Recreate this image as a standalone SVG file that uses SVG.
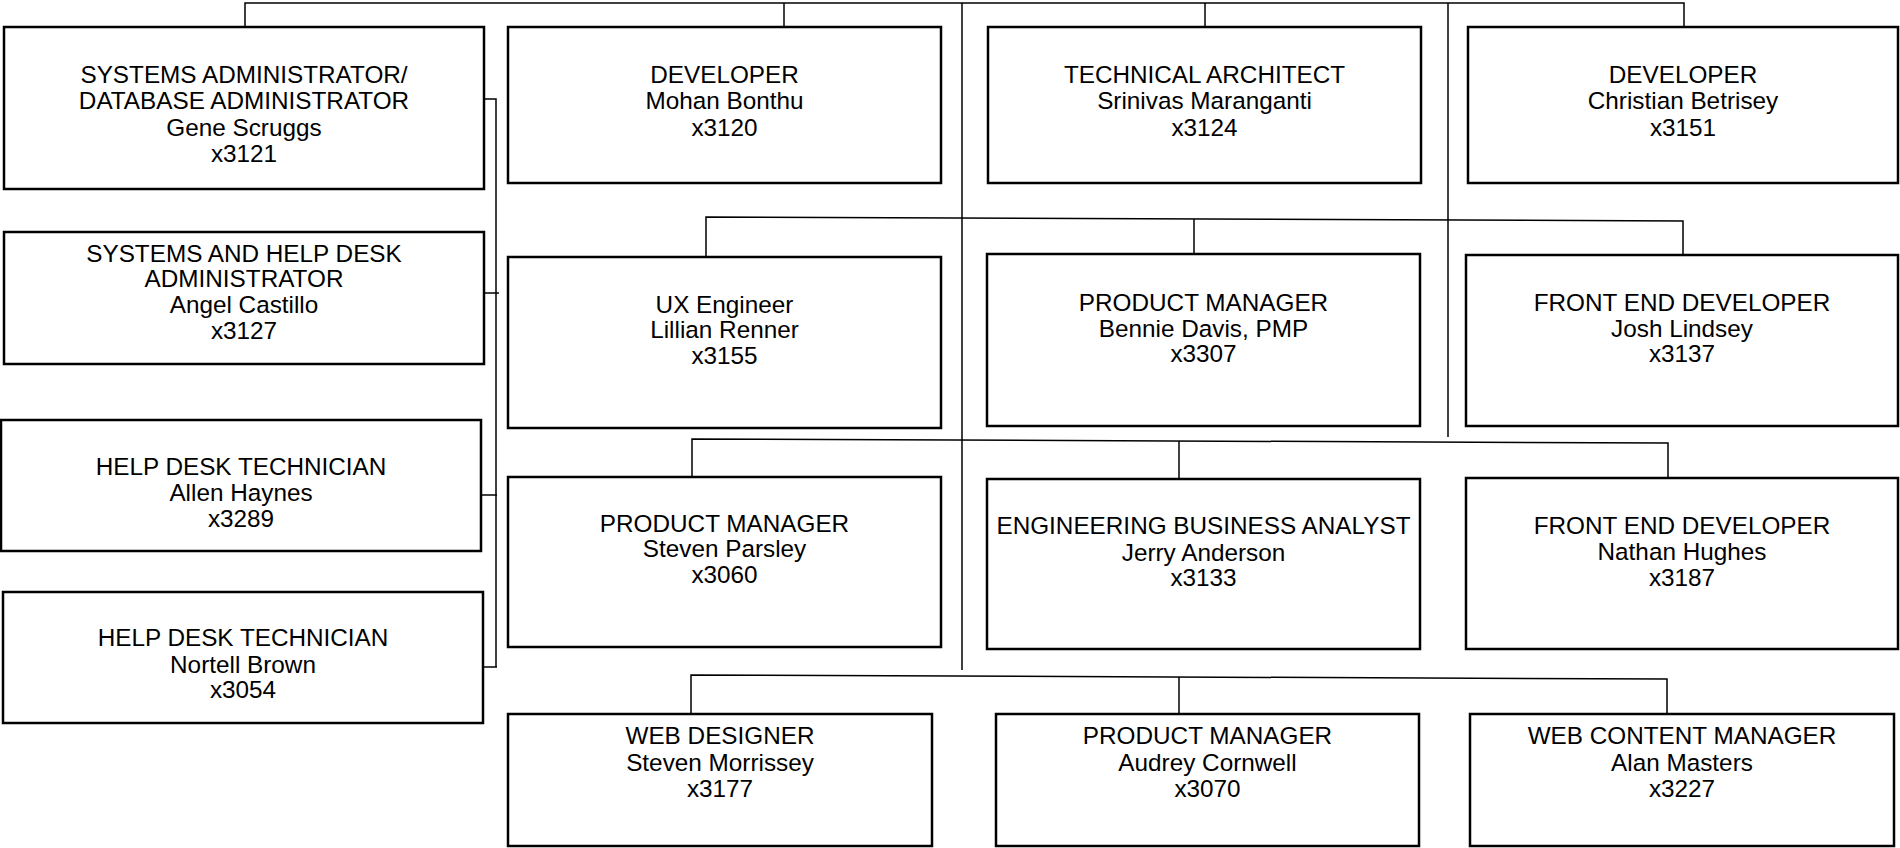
<svg xmlns="http://www.w3.org/2000/svg" width="1900" height="848" viewBox="0 0 1900 848">
<style>
.box{fill:#fff;stroke:#000;stroke-width:2.5}
.t{font-family:"Liberation Sans",Arial,sans-serif;font-size:24.3px;fill:#000;text-anchor:middle}
.c{fill:none;stroke:#000;stroke-width:1.5}
</style>
<rect width="1900" height="848" fill="#fff"/>
<g id="connectors">
<path class="c" d="M245,27 V3 H1684 V27"/>
<path class="c" d="M784,3 V27"/>
<path class="c" d="M1205,3 V27"/>
<path class="c" d="M962,3 V670"/>
<path class="c" d="M1448,3 V437"/>
<path class="c" d="M706,257 V217 L1683,221 V255"/>
<path class="c" d="M1194,219 V254"/>
<path class="c" d="M692,477 V439 L1668,443 V478"/>
<path class="c" d="M1179,441 V479"/>
<path class="c" d="M691,714 V675 L1667,679 V714"/>
<path class="c" d="M1179,677 V714"/>
<path class="c" d="M484,99 H496 V667"/>
<path class="c" d="M484,293 H499"/>
<path class="c" d="M481,495 H497"/>
<path class="c" d="M483,667 H497"/>
</g>
<g id="n-gene">
<rect class="box" x="4" y="27" width="480" height="162"/>
<text class="t" x="244" y="83">SYSTEMS ADMINISTRATOR/</text>
<text class="t" x="244" y="109">DATABASE ADMINISTRATOR</text>
<text class="t" x="244" y="136">Gene Scruggs</text>
<text class="t" x="244" y="162">x3121</text>
</g>
<g id="n-angel">
<rect class="box" x="4" y="232" width="480" height="132"/>
<text class="t" x="244" y="262">SYSTEMS AND HELP DESK</text>
<text class="t" x="244" y="287">ADMINISTRATOR</text>
<text class="t" x="244" y="313">Angel Castillo</text>
<text class="t" x="244" y="339">x3127</text>
</g>
<g id="n-allen">
<rect class="box" x="1" y="420" width="480" height="131"/>
<text class="t" x="241" y="475">HELP DESK TECHNICIAN</text>
<text class="t" x="241" y="501">Allen Haynes</text>
<text class="t" x="241" y="527">x3289</text>
</g>
<g id="n-nortell">
<rect class="box" x="3" y="592" width="480" height="131"/>
<text class="t" x="243" y="646">HELP DESK TECHNICIAN</text>
<text class="t" x="243" y="673">Nortell Brown</text>
<text class="t" x="243" y="698">x3054</text>
</g>
<g id="n-mohan">
<rect class="box" x="508" y="27" width="433" height="156"/>
<text class="t" x="724.5" y="83">DEVELOPER</text>
<text class="t" x="724.5" y="109">Mohan Bonthu</text>
<text class="t" x="724.5" y="136">x3120</text>
</g>
<g id="n-srinivas">
<rect class="box" x="988" y="27" width="433" height="156"/>
<text class="t" x="1204.5" y="83">TECHNICAL ARCHITECT</text>
<text class="t" x="1204.5" y="109">Srinivas Maranganti</text>
<text class="t" x="1204.5" y="136">x3124</text>
</g>
<g id="n-christian">
<rect class="box" x="1468" y="27" width="430" height="156"/>
<text class="t" x="1683" y="83">DEVELOPER</text>
<text class="t" x="1683" y="109">Christian Betrisey</text>
<text class="t" x="1683" y="136">x3151</text>
</g>
<g id="n-lillian">
<rect class="box" x="508" y="257" width="433" height="171"/>
<text class="t" x="724.5" y="313">UX Engineer</text>
<text class="t" x="724.5" y="338">Lillian Renner</text>
<text class="t" x="724.5" y="364">x3155</text>
</g>
<g id="n-bennie">
<rect class="box" x="987" y="254" width="433" height="172"/>
<text class="t" x="1203.5" y="311">PRODUCT MANAGER</text>
<text class="t" x="1203.5" y="337">Bennie Davis, PMP</text>
<text class="t" x="1203.5" y="362">x3307</text>
</g>
<g id="n-josh">
<rect class="box" x="1466" y="255" width="432" height="171"/>
<text class="t" x="1682" y="311">FRONT END DEVELOPER</text>
<text class="t" x="1682" y="337">Josh Lindsey</text>
<text class="t" x="1682" y="362">x3137</text>
</g>
<g id="n-steven-p">
<rect class="box" x="508" y="477" width="433" height="170"/>
<text class="t" x="724.5" y="532">PRODUCT MANAGER</text>
<text class="t" x="724.5" y="557">Steven Parsley</text>
<text class="t" x="724.5" y="583">x3060</text>
</g>
<g id="n-jerry">
<rect class="box" x="987" y="479" width="433" height="170"/>
<text class="t" x="1203.5" y="534">ENGINEERING BUSINESS ANALYST</text>
<text class="t" x="1203.5" y="561">Jerry Anderson</text>
<text class="t" x="1203.5" y="586">x3133</text>
</g>
<g id="n-nathan">
<rect class="box" x="1466" y="478" width="432" height="171"/>
<text class="t" x="1682" y="534">FRONT END DEVELOPER</text>
<text class="t" x="1682" y="560">Nathan Hughes</text>
<text class="t" x="1682" y="586">x3187</text>
</g>
<g id="n-steven-m">
<rect class="box" x="508" y="714" width="424" height="132"/>
<text class="t" x="720" y="744">WEB DESIGNER</text>
<text class="t" x="720" y="771">Steven Morrissey</text>
<text class="t" x="720" y="797">x3177</text>
</g>
<g id="n-audrey">
<rect class="box" x="996" y="714" width="423" height="132"/>
<text class="t" x="1207.5" y="744">PRODUCT MANAGER</text>
<text class="t" x="1207.5" y="771">Audrey Cornwell</text>
<text class="t" x="1207.5" y="797">x3070</text>
</g>
<g id="n-alan">
<rect class="box" x="1470" y="714" width="424" height="132"/>
<text class="t" x="1682" y="744">WEB CONTENT MANAGER</text>
<text class="t" x="1682" y="771">Alan Masters</text>
<text class="t" x="1682" y="797">x3227</text>
</g>
</svg>
